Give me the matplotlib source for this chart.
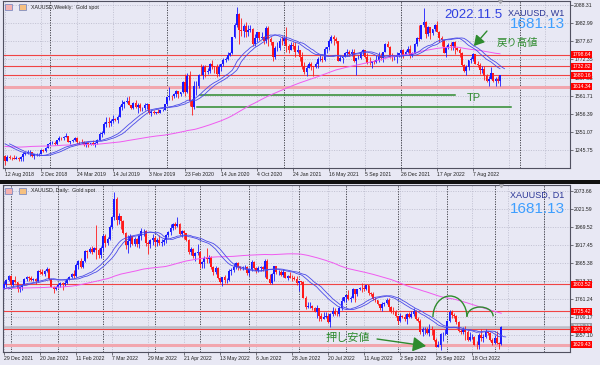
import numpy as np
import pandas as pd
import matplotlib
matplotlib.use("Agg")
import matplotlib.pyplot as plt
from matplotlib.patches import Arc, Rectangle

# ---------------- data ----------------
# XAUUSD weekly, week of 12 Aug 2018 .. week of 30 Oct 2022
w_first_open = 1212
w_close = [
    1184, 1206, 1201, 1197, 1194, 1199, 1192, 1203, 1222, 1227, 1233, 1233, 1209, 1222, 1222, 1222, 1248, 1238, 1257, 1280, 1285,
    1289, 1282, 1303, 1318, 1315, 1322, 1329, 1294, 1298, 1302, 1313, 1292, 1291, 1290, 1276, 1286, 1280, 1285, 1278, 1284, 1305,
    1341, 1342, 1399, 1409, 1400, 1415, 1426, 1419, 1440, 1497, 1513, 1527, 1529, 1507, 1488, 1516, 1497, 1505, 1488, 1489, 1505,
    1514, 1459, 1468, 1462, 1465, 1461, 1476, 1479, 1511, 1552,
    1562, 1557, 1571, 1589, 1570, 1584, 1643, 1585, 1674, 1530, 1498, 1617, 1620, 1684, 1683, 1728, 1700, 1703, 1744, 1735, 1730,
    1685, 1730, 1743, 1771, 1774, 1799, 1810, 1902, 1975, 2035, 1944, 1940, 1964, 1934, 1941, 1950, 1862, 1899, 1930, 1899, 1902,
    1879, 1952, 1889, 1871, 1788, 1839, 1839, 1881, 1877, 1898,
    1850, 1828, 1856, 1848, 1813, 1824, 1784, 1734, 1700, 1720, 1745, 1733, 1728, 1744, 1776, 1777, 1768, 1831, 1843, 1881, 1904,
    1891, 1877, 1764, 1781, 1787, 1808, 1815, 1802, 1814, 1763, 1780, 1781, 1818, 1827, 1787, 1754, 1750, 1761, 1757, 1767, 1792,
    1783, 1818, 1864, 1846, 1788, 1784, 1784, 1798, 1809, 1829,
    1797, 1817, 1835, 1791, 1807, 1859, 1898, 1889, 1970, 1989, 1921, 1958, 1925, 1946, 1975, 1931, 1896, 1883, 1811, 1846, 1853,
    1850, 1871, 1840, 1826, 1811, 1742, 1703, 1727, 1766, 1775, 1802, 1747, 1737, 1712, 1716, 1675, 1644, 1661, 1694, 1644, 1656,
    1644, 1681,
]
w_high = [
    1219, 1214, 1214, 1207, 1214, 1211, 1203, 1208, 1233, 1233, 1243, 1243, 1237, 1225, 1230, 1230, 1250, 1253, 1261, 1282, 1298,
    1297, 1298, 1304, 1326, 1321, 1326, 1346, 1330, 1299, 1311, 1320, 1324, 1300, 1310, 1296, 1288, 1290, 1289, 1303, 1290, 1311,
    1348, 1358, 1411, 1439, 1437, 1426, 1452, 1434, 1449, 1510, 1535, 1531, 1555, 1557, 1509, 1523, 1535, 1520, 1516, 1498, 1519,
    1518, 1515, 1478, 1477, 1468, 1484, 1480, 1482, 1514, 1553,
    1611, 1563, 1575, 1592, 1590, 1585, 1649, 1689, 1692, 1704, 1545, 1647, 1645, 1690, 1747, 1738, 1739, 1722, 1751, 1766, 1735,
    1745, 1745, 1745, 1779, 1789, 1818, 1815, 1904, 1984, 2075, 2039, 2015, 1977, 1992, 1973, 1973, 1955, 1917, 1932, 1933, 1932,
    1911, 1965, 1966, 1900, 1875, 1848, 1875, 1896, 1907, 1900,
    1960, 1864, 1875, 1875, 1875, 1855, 1826, 1816, 1760, 1740, 1755, 1755, 1736, 1758, 1785, 1797, 1790, 1843, 1845, 1890, 1913,
    1916, 1903, 1877, 1795, 1787, 1818, 1834, 1825, 1832, 1832, 1782, 1795, 1823, 1834, 1827, 1809, 1787, 1764, 1771, 1800, 1814,
    1810, 1818, 1868, 1877, 1849, 1808, 1793, 1815, 1812, 1831,
    1831, 1829, 1848, 1853, 1814, 1865, 1902, 1974, 1974, 2070, 1998, 1966, 1960, 1948, 1979, 1998, 1935, 1910, 1885, 1850, 1870,
    1874, 1876, 1880, 1847, 1838, 1813, 1745, 1739, 1768, 1788, 1807, 1806, 1765, 1750, 1735, 1735, 1688, 1675, 1729, 1690, 1668,
    1676, 1682,
]
w_low = [
    1160, 1183, 1196, 1187, 1193, 1193, 1180, 1182, 1182, 1217, 1221, 1211, 1206, 1196, 1213, 1211, 1221, 1234, 1235, 1257, 1276,
    1279, 1276, 1276, 1298, 1302, 1302, 1320, 1290, 1281, 1290, 1296, 1280, 1281, 1288, 1270, 1266, 1266, 1277, 1273, 1266, 1279,
    1305, 1319, 1337, 1382, 1381, 1385, 1401, 1412, 1400, 1438, 1480, 1492, 1518, 1506, 1485, 1484, 1490, 1459, 1474, 1474, 1480,
    1484, 1456, 1445, 1456, 1453, 1458, 1458, 1471, 1476, 1508,
    1535, 1537, 1548, 1556, 1548, 1561, 1577, 1562, 1578, 1504, 1451, 1484, 1568, 1606, 1679, 1660, 1670, 1689, 1693, 1717, 1694,
    1670, 1675, 1705, 1736, 1757, 1767, 1794, 1803, 1898, 1963, 1863, 1911, 1902, 1902, 1907, 1929, 1848, 1848, 1873, 1883, 1891,
    1860, 1870, 1850, 1853, 1764, 1775, 1820, 1825, 1855, 1863,
    1817, 1808, 1826, 1830, 1785, 1809, 1761, 1717, 1687, 1676, 1720, 1713, 1677, 1721, 1724, 1763, 1756, 1765, 1808, 1826, 1870,
    1855, 1866, 1761, 1768, 1750, 1784, 1790, 1794, 1790, 1758, 1682, 1772, 1777, 1800, 1782, 1745, 1737, 1721, 1745, 1750, 1759,
    1771, 1758, 1814, 1843, 1778, 1762, 1770, 1753, 1784, 1789,
    1782, 1796, 1810, 1780, 1785, 1807, 1850, 1878, 1889, 1960, 1895, 1910, 1890, 1915, 1940, 1930, 1872, 1850, 1807, 1787, 1833,
    1829, 1825, 1805, 1822, 1784, 1732, 1697, 1680, 1711, 1754, 1765, 1745, 1727, 1688, 1691, 1654, 1639, 1615, 1660, 1641, 1617,
    1637, 1616,
]
# weekly closes before the first visible week (only feed the moving averages)
w_close_prev = [
    1327, 1327, 1310, 1338, 1322, 1257, 1251, 1252, 1266, 1275, 1304, 1225, 1208, 1178, 1177, 1159, 1133, 1132, 1146,
    1173, 1196, 1205, 1190, 1220, 1234, 1234, 1236, 1257, 1234, 1202, 1229, 1249, 1245, 1253, 1285, 1284, 1268, 1266,
    1228, 1228, 1253, 1268, 1280, 1267, 1255, 1256, 1242, 1209, 1217, 1228, 1254, 1269, 1257, 1290, 1286, 1291,
    1325, 1346, 1320, 1297, 1280, 1275, 1304, 1280, 1272, 1270, 1275, 1294, 1292, 1288, 1248, 1257, 1266, 1302,
    1319, 1336, 1334, 1349, 1333, 1315, 1353, 1330, 1318, 1323, 1324, 1312, 1347, 1323, 1332, 1346, 1335, 1323,
    1314, 1318, 1291, 1301, 1299, 1298, 1278, 1269, 1252, 1255, 1241, 1231, 1223, 1214,
]
w_tick_labels = ["12 Aug 2018", "2 Dec 2018", "24 Mar 2019", "14 Jul 2019", "3 Nov 2019", "23 Feb 2020",
                 "14 Jun 2020", "4 Oct 2020", "24 Jan 2021", "16 May 2021", "5 Sep 2021", "26 Dec 2021",
                 "17 Apr 2022", "7 Aug 2022"]
w_yticks = [2088.31, 1982.99, 1877.67, 1772.35, 1667.03, 1561.71, 1456.39, 1351.07, 1245.75]
w_levels = [1798.64, 1732.82, 1680.16]
w_support = 1614.34
w_tp_lines = [(1565.3, 86.7, 200.0), (1495.6, 85.3, 225.0)]   # price, from bar, to bar

# XAUUSD daily, 29 Dec 2021 .. 4 Nov 2022
d_first_open = 1791
d_close = [
    1805, 1815, 1829,
    1801, 1815, 1810, 1790, 1797, 1801, 1819, 1826, 1821, 1817, 1818, 1813, 1843, 1840, 1835, 1842, 1848, 1819, 1797, 1791, 1797,
    1801, 1807, 1805, 1807, 1820, 1826, 1833, 1827, 1859, 1872, 1855, 1871, 1899, 1898, 1906, 1898, 1909, 1903, 1889, 1909,
    1944, 1923, 1936, 1970, 1998, 2050, 1989, 2000, 1988, 1953, 1918, 1929, 1943, 1921, 1936, 1921, 1944, 1958, 1958,
    1922, 1919, 1933, 1937,
    1925, 1932, 1923, 1925, 1932, 1946, 1954, 1966, 1978, 1972, 1979, 1950, 1957, 1951, 1932, 1898, 1906, 1886, 1895, 1896,
    1862, 1868, 1881, 1876, 1883, 1855, 1838, 1852, 1821, 1811, 1824, 1815, 1816, 1842, 1846, 1853, 1866, 1853, 1851, 1853,
    1855, 1837,
    1848, 1869, 1851, 1841, 1852, 1853, 1848, 1871, 1819, 1808, 1834, 1857, 1839, 1839, 1832, 1838, 1822, 1827, 1823, 1821,
    1818, 1807,
    1812, 1809, 1764, 1739, 1740, 1742, 1734, 1725, 1735, 1711, 1703, 1709, 1711, 1696, 1718, 1727, 1719, 1717, 1735, 1756, 1766,
    1772, 1761, 1765, 1791, 1775, 1789, 1794, 1792, 1789, 1802, 1779, 1775, 1761, 1758, 1747, 1736, 1748, 1751, 1758, 1737,
    1725, 1724, 1711,
    1697, 1712, 1710, 1702, 1718, 1708, 1717, 1726, 1702, 1697, 1665, 1675, 1675, 1664, 1674, 1671, 1643, 1623, 1629, 1660,
    1660, 1661,
    1698, 1725, 1716, 1712, 1694, 1668, 1666, 1673, 1666, 1644, 1650, 1652, 1629, 1627, 1657, 1649, 1652, 1665, 1663, 1644, 1634,
    1647, 1634, 1630, 1681,
]
d_high = [
    1812, 1818, 1831,
    1832, 1815, 1829, 1810, 1800, 1806, 1823, 1829, 1829, 1829, 1823, 1822, 1845, 1848, 1847, 1845, 1853, 1851, 1818, 1799, 1800,
    1807, 1810, 1809, 1817, 1823, 1829, 1836, 1845, 1866, 1875, 1880, 1872, 1902, 1903, 1913, 1914, 1912, 1974, 1910, 1915,
    1950, 1950, 1942, 1974, 2002, 2070, 2057, 2010, 2000, 1990, 1956, 1947, 1950, 1944, 1942, 1937, 1948, 1966, 1964,
    1960, 1929, 1935, 1950,
    1943, 1937, 1945, 1935, 1938, 1948, 1958, 1978, 1980, 1983, 1998, 1981, 1960, 1960, 1952, 1935, 1911, 1908, 1898, 1919,
    1899, 1871, 1886, 1909, 1889, 1885, 1858, 1858, 1854, 1826, 1826, 1830, 1823, 1847, 1850, 1865, 1869, 1868, 1857, 1857,
    1860, 1857,
    1850, 1874, 1872, 1855, 1856, 1857, 1858, 1876, 1876, 1833, 1836, 1858, 1857, 1844, 1846, 1847, 1840, 1830, 1838, 1830,
    1829, 1829,
    1813, 1814, 1812, 1769, 1752, 1752, 1745, 1737, 1745, 1735, 1720, 1723, 1724, 1720, 1721, 1739, 1735, 1726, 1740, 1767, 1768,
    1774, 1788, 1770, 1794, 1791, 1791, 1797, 1807, 1801, 1802, 1800, 1782, 1782, 1767, 1759, 1748, 1753, 1754, 1765, 1764,
    1740, 1738, 1728,
    1713, 1722, 1715, 1718, 1720, 1725, 1727, 1735, 1728, 1710, 1702, 1679, 1681, 1679, 1688, 1682, 1675, 1647, 1641, 1662,
    1667, 1675,
    1701, 1729, 1729, 1721, 1716, 1697, 1675, 1680, 1682, 1671, 1665, 1660, 1654, 1641, 1664, 1675, 1659, 1675, 1670, 1666, 1649,
    1656, 1669, 1637, 1682,
]
d_low = [
    1789, 1795, 1813,
    1798, 1799, 1808, 1782, 1782, 1788, 1801, 1813, 1814, 1812, 1814, 1804, 1811, 1834, 1831, 1829, 1839, 1815, 1795, 1780, 1787,
    1794, 1796, 1788, 1800, 1806, 1817, 1822, 1822, 1824, 1848, 1850, 1850, 1868, 1879, 1894, 1891, 1896, 1878, 1881, 1880,
    1900, 1913, 1917, 1932, 1964, 1989, 1974, 1979, 1965, 1948, 1906, 1895, 1912, 1917, 1915, 1912, 1910, 1932, 1943,
    1914, 1890, 1910, 1917,
    1916, 1916, 1917, 1915, 1917, 1922, 1940, 1945, 1962, 1963, 1969, 1947, 1940, 1935, 1930, 1891, 1888, 1881, 1872, 1888,
    1851, 1850, 1851, 1865, 1866, 1848, 1832, 1835, 1820, 1807, 1799, 1808, 1807, 1813, 1832, 1839, 1849, 1845, 1846, 1845,
    1849, 1830,
    1828, 1843, 1847, 1837, 1838, 1843, 1843, 1825, 1818, 1805, 1806, 1812, 1834, 1831, 1829, 1826, 1822, 1816, 1821, 1812,
    1815, 1802,
    1784, 1804, 1763, 1732, 1734, 1736, 1730, 1723, 1707, 1697, 1697, 1702, 1706, 1692, 1680, 1712, 1715, 1711, 1711, 1730, 1754,
    1754, 1759, 1754, 1764, 1754, 1771, 1786, 1782, 1783, 1787, 1772, 1771, 1759, 1753, 1745, 1728, 1727, 1740, 1748, 1727,
    1720, 1719, 1709,
    1688, 1696, 1706, 1699, 1690, 1707, 1706, 1713, 1700, 1694, 1660, 1654, 1661, 1660, 1654, 1656, 1639, 1621, 1621, 1615,
    1641, 1656,
    1659, 1696, 1707, 1706, 1690, 1665, 1659, 1660, 1642, 1641, 1640, 1645, 1627, 1618, 1617, 1639, 1638, 1647, 1656, 1640, 1627,
    1632, 1631, 1616, 1628,
]
# daily closes Aug-Dec 2021 (only feed the moving averages)
d_close_prev = [
    1729, 1731, 1752, 1753, 1780, 1786, 1786, 1788, 1781, 1781, 1805, 1803, 1790, 1793, 1818, 1810, 1814,
    1815, 1810, 1827, 1823, 1795, 1789, 1794, 1787, 1794, 1804, 1794, 1754, 1754, 1764, 1774, 1768, 1743, 1750,
    1751, 1734, 1726, 1757,
    1761, 1769, 1760, 1763, 1756, 1757, 1754, 1760, 1793, 1796, 1767, 1765, 1769, 1783, 1782, 1793, 1807, 1792,
    1798, 1799, 1783,
    1793, 1787, 1769, 1793, 1818, 1824, 1832, 1849, 1862, 1865, 1863, 1851, 1868, 1858, 1846, 1806, 1788, 1789,
    1792, 1788, 1785, 1774,
    1782, 1769, 1783, 1779, 1785, 1783, 1775, 1783, 1787, 1771, 1778, 1799, 1805, 1791, 1789, 1803, 1809, 1808,
    1811, 1790,
]
d_tick_labels = ["29 Dec 2021", "20 Jan 2022", "11 Feb 2022", "7 Mar 2022", "29 Mar 2022", "21 Apr 2022",
                 "13 May 2022", "6 Jun 2022", "28 Jun 2022", "20 Jul 2022", "11 Aug 2022", "2 Sep 2022",
                 "26 Sep 2022", "18 Oct 2022"]
d_yticks = [2073.66, 2021.59, 1969.52, 1917.45, 1865.38, 1813.31, 1761.24, 1709.17, 1657.10]
d_levels = [1803.52, 1725.42, 1673.98]
d_support = 1629.43
last_price = 1681.13

# ---------------- style ----------------
W, H = 600, 365
BG = "#E8E8F4"
BULL = "#1A1AFF"
BEAR = "#FF1A1A"
MA_BLUE = "#4A4AE8"
MA_PINK = "#F05AF0"
LEVEL = "#F04444"
SUPPORT = "#F2A6AE"
GREEN = "#2E8B2E"
GRID = "#B4B4C6"
TXT = "#202020"
SMALL = 3.7

plt.rcParams["font.family"] = ["Liberation Sans", "Noto Sans CJK JP", "DejaVu Sans"]

fig = plt.figure(figsize=(W / 100, H / 100), dpi=100)
fig.patch.set_facecolor(BG)


def px_axes(x0, y0, x1, y1):
    return fig.add_axes([x0 / W, 1 - y1 / H, (x1 - x0) / W, (y1 - y0) / H])


def ptext(x, y, s, **kw):
    kw.setdefault("ha", "center")
    kw.setdefault("va", "center")
    return fig.text(x / W, 1 - y / H, s, **kw)


def candles(ax, first_open, close, high, low):
    c = np.array(close, float)
    o = np.r_[first_open, c[:-1]]
    h = np.maximum(np.array(high, float), np.maximum(o, c))
    l = np.minimum(np.array(low, float), np.minimum(o, c))
    x = np.arange(len(c))
    col = np.where(c >= o, BULL, BEAR)
    ax.vlines(x, l, h, colors=col, lw=0.6, zorder=3)
    body = np.maximum(np.abs(c - o), 0.8)
    ax.bar(x, body, 0.7, bottom=np.minimum(o, c), color=col, lw=0, zorder=3)


def moving_averages(ax, prev, close):
    s = pd.Series(list(prev) + list(close), dtype=float)
    n0 = len(prev)
    x = np.arange(len(close))
    ma20 = s.rolling(20).mean().to_numpy()[n0:]
    ma100 = s.rolling(100).mean().to_numpy()[n0:]
    ax.plot(x, ma100, color=MA_PINK, lw=0.7, zorder=4)
    ax.plot(x, ma20, color=MA_BLUE, lw=0.6, zorder=4)
    ax.plot(x + 2, ma20, color=MA_BLUE, lw=0.6, zorder=4)


def frame(ax, xlim, ylim, yticks, tick_labels, seps, n_bars):
    ax.set_facecolor(BG)
    ax.set_xlim(*xlim)
    ax.set_ylim(*ylim)
    for v in yticks:
        ax.axhline(v, color=GRID, lw=0.5, ls=(0, (1.5, 2)), zorder=0)
    for k in range(0, int(xlim[1]), 16):
        ax.axvline(k, color=GRID, lw=0.5, ls=(0, (1.5, 2)), zorder=0)
    for k in seps:
        ax.axvline(k, color="#303038", lw=0.6, ls=(0, (1.5, 1.5)), zorder=1)
    ax.yaxis.tick_right()
    ax.set_yticks(yticks, [f"{v:.2f}" for v in yticks])
    ax.set_xticks(np.arange(len(tick_labels)) * 16, tick_labels)
    for lab in ax.get_xticklabels():
        lab.set_ha("left")
    ax.tick_params(axis="both", labelsize=SMALL, length=2, width=0.5, pad=1,
                   colors="#404048", labelcolor=TXT)
    for sp in ax.spines.values():
        sp.set_color("#505060")
        sp.set_linewidth(0.8)
    ax.plot([n_bars - 1], [ylim[1]], marker="v", ms=3, color="#A8A8B0", clip_on=False, zorder=6)


def price_box(ax, value, fc):
    ax.text(1.004, value, f"{value:.2f}", transform=ax.get_yaxis_transform(), ha="left", va="center",
            fontsize=SMALL, color="white", clip_on=False, zorder=7,
            bbox=dict(boxstyle="square,pad=0.2", fc=fc, ec="none"))


# ---------------- weekly panel ----------------
ax1 = px_axes(2.5, 1, 570, 168)
w_scale = (w_yticks[0] - w_yticks[-1]) / 145.0
w_ylim = (w_yticks[-1] - 18 * w_scale, w_yticks[0] + 4 * w_scale)
w_xlim = ((2.5 - 5) / 2.25, (570 - 5) / 2.25)
w_dates = pd.date_range("2018-08-12", periods=260, freq="7D")
w_year = (w_dates + pd.Timedelta(days=6)).year
w_seps = [i for i in range(1, len(w_dates)) if w_year[i] != w_year[i - 1]]
frame(ax1, w_xlim, w_ylim, w_yticks, w_tick_labels, w_seps, len(w_close))

for lev in w_levels:
    ax1.axhline(lev, color=LEVEL, lw=0.8, zorder=2)
ax1.axhline(w_support, color=SUPPORT, lw=2.2, zorder=2)
for price, a, b in w_tp_lines:
    ax1.plot([a, b], [price, price], color=GREEN, lw=1.1, zorder=2)

candles(ax1, w_first_open, w_close, w_high, w_low)
moving_averages(ax1, w_close_prev, w_close)

for lev in w_levels + [w_support]:
    price_box(ax1, lev, "#FF0000")

ax1.annotate("", xy=(208.4, 1850), xytext=(214.2, 1937),
             arrowprops=dict(arrowstyle="-|>,head_length=0.6,head_width=0.35", color=GREEN,
                             lw=1.0, mutation_scale=10, shrinkA=0, shrinkB=0), zorder=8)

ptext(31, 7, "XAUUSD,Weekly:  Gold spot", ha="left", fontsize=3.8, color=TXT)
ptext(473, 14.5, "2022.11.5", fontsize=9.5, color="#2F3FE0")
ptext(536, 13.5, "XAUUSD, W1", fontsize=6.5, color="#2A3596")
ptext(537, 24, "1681.13", fontsize=11, color="#3D9EFF")
ptext(517, 43, "戻り高値", fontsize=7.5, color=GREEN, family=["Noto Sans CJK JP"])
ptext(474, 98, "TP", fontsize=8, color=GREEN)

# ---------------- daily panel ----------------
ax2 = px_axes(2.5, 185, 570, 352)
d_scale = (d_yticks[0] - d_yticks[-1]) / 144.0
d_ylim = (d_yticks[-1] - 17 * d_scale, d_yticks[0] + 6 * d_scale)
d_xlim = ((2.5 - 4) / 2.25, (570 - 4) / 2.25)
d_dates = pd.bdate_range("2021-12-29", "2023-01-31")
d_dates = d_dates[d_dates != pd.Timestamp("2022-04-15")]
d_seps = [i for i in range(1, len(d_dates)) if d_dates[i].month != d_dates[i - 1].month]
frame(ax2, d_xlim, d_ylim, d_yticks, d_tick_labels, d_seps, len(d_close))

for lev in d_levels:
    ax2.axhline(lev, color=LEVEL, lw=0.8, zorder=2)
ax2.axhline(last_price, color="#BDBDC8", lw=1.8, zorder=1.5)
ax2.axhline(d_support, color=SUPPORT, lw=2.2, zorder=2)

candles(ax2, d_first_open, d_close, d_high, d_low)
moving_averages(ax2, d_close_prev, d_close)

price_box(ax2, last_price, "#9A9AA4")
for lev in d_levels + [d_support]:
    price_box(ax2, lev, "#FF0000")

ax2.add_patch(Arc((198.2, 1709.2), 15.1, 121.4, theta1=0, theta2=180, color=GREEN, lw=1.0, zorder=8))
ax2.add_patch(Arc((211.6, 1711.0), 11.6, 54.0, theta1=0, theta2=180, color=GREEN, lw=1.0, zorder=8))
ax2.annotate("", xy=(187.6, 1625.3), xytext=(165.8, 1645.5),
             arrowprops=dict(arrowstyle="-|>,head_length=0.8,head_width=0.45", color=GREEN,
                             lw=1.0, mutation_scale=10, shrinkA=0, shrinkB=0), zorder=8)

ptext(31, 191, "XAUUSD, Daily:  Gold spot", ha="left", fontsize=3.8, color=TXT)
ptext(537, 195.5, "XAUUSD, D1", fontsize=6.5, color="#2A3596")
ptext(537, 208.5, "1681.13", fontsize=11, color="#3D9EFF")
ptext(348, 337.5, "押し安値", fontsize=8, color=GREEN, family=["Noto Sans CJK JP"])

# window icons next to the chart titles
for y0 in (4, 188):
    fig.add_artist(Rectangle((5 / W, 1 - (y0 + 6) / H), 7 / W, 6 / H, transform=fig.transFigure,
                             fc="#F4B0B0", ec="#6A7FC0", lw=0.5))
    fig.add_artist(Rectangle((19 / W, 1 - (y0 + 6) / H), 7 / W, 6 / H, transform=fig.transFigure,
                             fc="#F6C080", ec="#6A7FC0", lw=0.5))

# black separator between the two windows
fig.add_artist(Rectangle((0, 1 - 184 / H), 1, 4 / H, transform=fig.transFigure, fc="#111111", ec="none"))

fig.savefig("out.png", dpi=100, facecolor=BG)
